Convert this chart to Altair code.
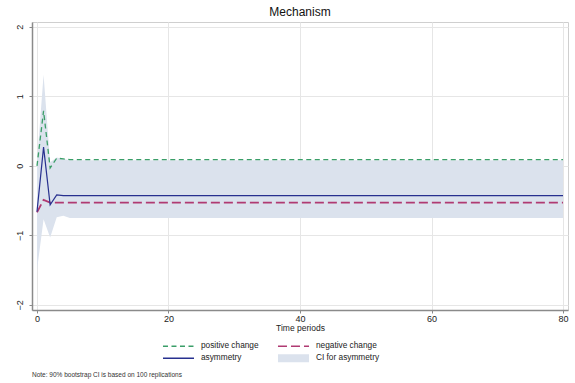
import altair as alt
import pandas as pd

# ---- data ----
periods = [0, 1, 2, 3, 4, 5, 80]
positive = [0.00, 0.79, -0.03, 0.11, 0.10, 0.09, 0.09]
negative = [-0.67, -0.49, -0.53, -0.53, -0.53, -0.53, -0.53]
asymmetry = [-0.66, 0.27, -0.56, -0.42, -0.43, -0.43, -0.43]
ci_low = [-1.50, -0.77, -1.03, -0.74, -0.72, -0.75, -0.75]
ci_high = [0.05, 1.31, 0.05, 0.12, 0.10, 0.08, 0.08]

x_ticks = [0, 20, 40, 60, 80]
y_ticks = [-2, -1, 0, 1, 2]

legend_labels = ["positive change", "negative change", "asymmetry", "CI for asymmetry"]
legend_cols = [0, 1, 0, 1]
legend_rows = [0, 0, 1, 1]
note_text = ["Note: 90% bootstrap CI is based on 100 replications"]

# ---- styles ----
GREEN = "#3a9e68"
MAROON = "#b03a72"
NAVY = "#27308f"
BAND = "#dbe2ed"
FONT = "Liberation Sans"

colors = [GREEN, MAROON, NAVY, BAND]
dashes = [[5, 3.5], [9, 4], [1, 0], [1, 0]]

df = pd.DataFrame({
    "t": periods, "positive": positive, "negative": negative,
    "asym": asymmetry, "lo": ci_low, "hi": ci_high,
})

xscale = alt.Scale(domain=[-0.76, 80.76], nice=False, zero=False)
yscale = alt.Scale(domain=[-2.075, 2.07], nice=False, zero=False)

xaxis = alt.Axis(values=x_ticks, title="Time periods", titleFontSize=8.5, titleFontWeight="normal",
                 titlePadding=0, labelFontSize=9, tickSize=3, grid=True, gridColor="#e6e6e6",
                 domainColor="#8a8a8a", domainWidth=1.5, tickColor="#8a8a8a", labelColor="#222",
                 titleColor="#222", labelPadding=1, format="d")
yaxis = alt.Axis(values=y_ticks, title=None, labelFontSize=9, tickSize=3, grid=True, gridColor="#e6e6e6",
                 domainColor="#8a8a8a", domainWidth=1.5, tickColor="#8a8a8a", labelColor="#222",
                 labelAngle=270, labelPadding=5, minExtent=26, format="d")

base = alt.Chart(df)

band = base.mark_area(color=BAND, opacity=1).encode(
    x=alt.X("t:Q", scale=xscale, axis=xaxis),
    y=alt.Y("lo:Q", scale=yscale, axis=yaxis),
    y2="hi:Q",
)
pos_line = base.mark_line(color=GREEN, strokeDash=dashes[0], strokeWidth=1.3).encode(
    x="t:Q", y="positive:Q")
neg_line = base.mark_line(color=MAROON, strokeDash=dashes[1], strokeWidth=1.8).encode(
    x="t:Q", y="negative:Q")
asym_line = base.mark_line(color=NAVY, strokeWidth=1.2).encode(
    x="t:Q", y="asym:Q")

main = alt.layer(band, pos_line, neg_line, asym_line).properties(
    width=536, height=288,
    title=alt.Title("Mechanism", fontSize=12, fontWeight="normal", font=FONT, color="#111", offset=3),
)

# ---- legend built from its own small table ----
leg = pd.DataFrame({
    "label": legend_labels, "col": legend_cols, "row": legend_rows,
})
leg["col_end"] = leg["col"] + 0.27
leg["text_x"] = leg["col"] + 0.33
lines_leg = leg[leg["label"] != "CI for asymmetry"]
band_leg = leg[leg["label"] == "CI for asymmetry"]

lx = alt.Scale(domain=[-1.139, 3.522], nice=False, zero=False)
ly = alt.Scale(domain=[-1.1, 2.65], nice=False, zero=False, reverse=True)

leg_lines = alt.Chart(lines_leg).mark_rule(strokeCap="butt", strokeWidth=1.5).encode(
    x=alt.X("col:Q", scale=lx, axis=None),
    x2="col_end:Q",
    y=alt.Y("row:Q", scale=ly, axis=None),
    color=alt.Color("label:N", scale=alt.Scale(domain=legend_labels, range=colors), legend=None),
    strokeDash=alt.StrokeDash("label:N", scale=alt.Scale(domain=legend_labels, range=dashes), legend=None),
)
leg_band = alt.Chart(band_leg).mark_rule(strokeCap="butt", strokeWidth=8, color=BAND).encode(
    x=alt.X("col:Q", scale=lx, axis=None),
    x2="col_end:Q",
    y=alt.Y("row:Q", scale=ly, axis=None),
)
leg_txt = alt.Chart(leg).mark_text(align="left", baseline="middle", fontSize=8.3, font=FONT, color="#222").encode(
    x=alt.X("text_x:Q", scale=lx, axis=None),
    y=alt.Y("row:Q", scale=ly, axis=None),
    text="label:N",
)
note_df = pd.DataFrame({"note": note_text, "nx": [-1.139], "ny": [2.42]})
note = alt.Chart(note_df).mark_text(align="left", baseline="middle", fontSize=6.5, font=FONT, color="#333").encode(
    x=alt.X("nx:Q", scale=lx, axis=None),
    y=alt.Y("ny:Q", scale=ly, axis=None),
    text="note:N",
)
legend_chart = alt.layer(leg_lines, leg_band, leg_txt, note).properties(
    width=536, height=45, view=alt.ViewBackground(stroke="transparent"))

chart = alt.vconcat(main, legend_chart, spacing=0).resolve_scale(
    x="independent", y="independent", color="independent", strokeDash="independent",
).properties(
    padding={"left": 5, "right": 3, "top": 5, "bottom": 0},
    background="white",
).configure_view(
    stroke="#cfcfcf", strokeWidth=1,
).configure_axis(
    labelFont=FONT, titleFont=FONT,
).configure_concat(spacing=0)

chart.save("out.html", embed_options={"renderer": "svg", "actions": False})
